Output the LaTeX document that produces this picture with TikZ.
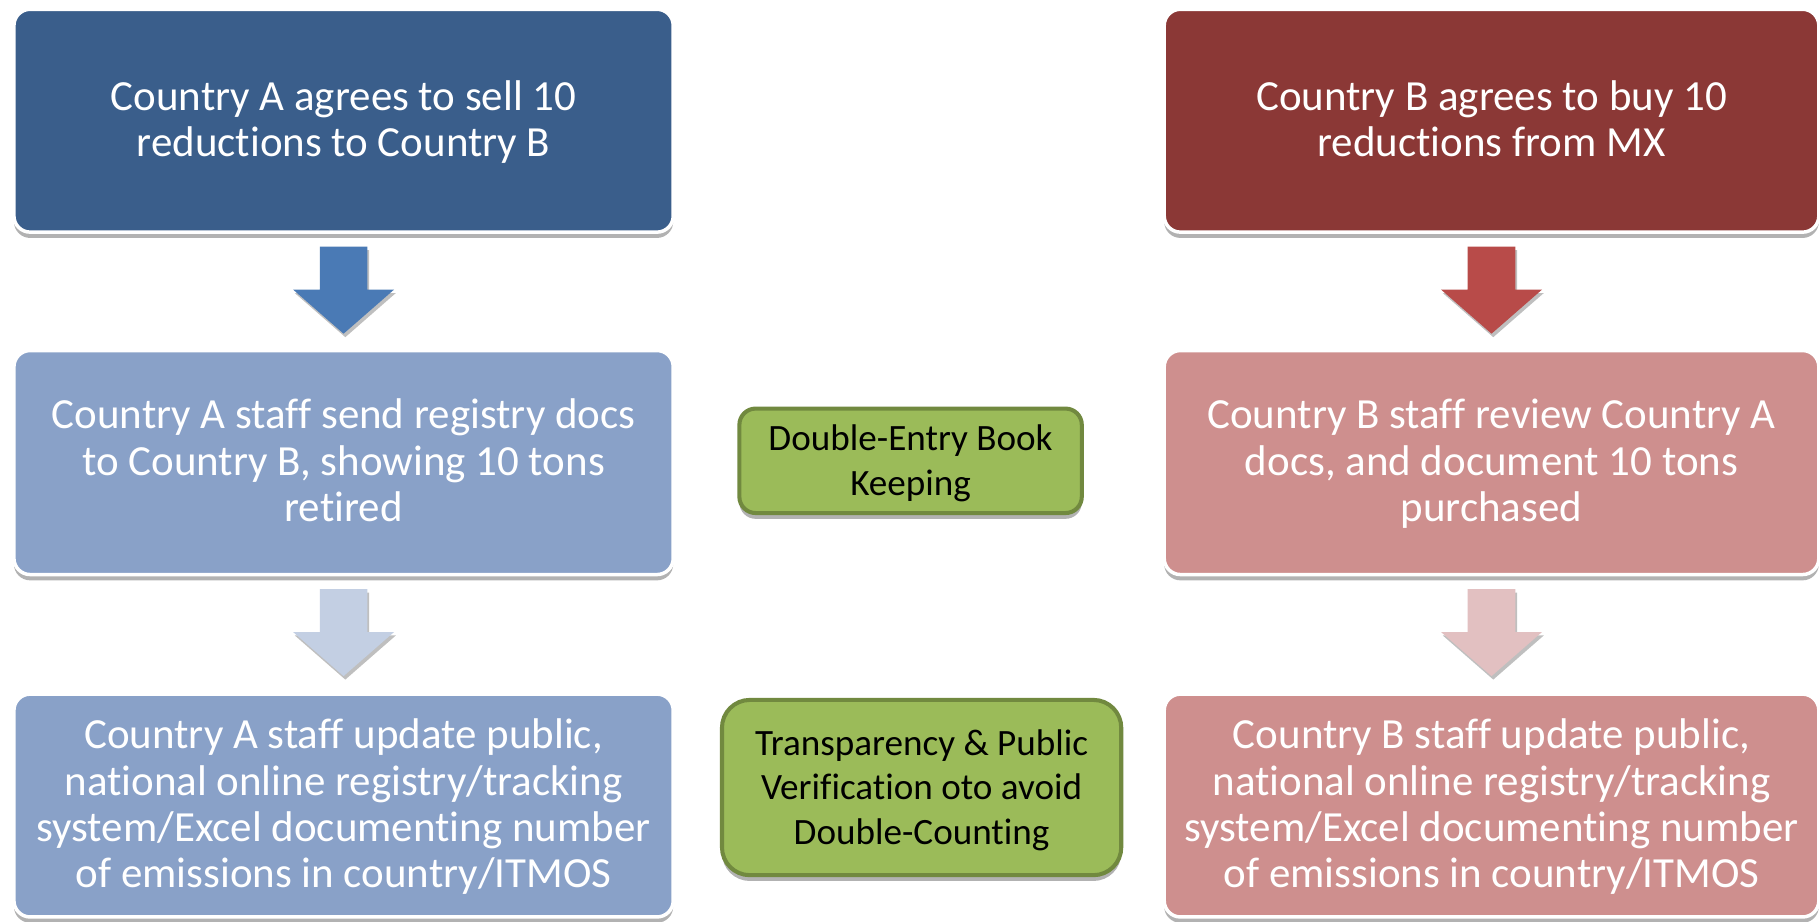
\documentclass[tikz,border=0pt]{standalone}
\usepackage{fontspec}
\setmainfont{Carlito}[Ligatures=NoCommon]
\usetikzlibrary{shadows,calc}
\definecolor{dblue}{HTML}{3A5E8B}
\definecolor{ablue}{HTML}{4A7AB5}
\definecolor{lblue}{HTML}{89A1C8}
\definecolor{pblue}{HTML}{C3CFE3}
\definecolor{dred}{HTML}{8B3836}
\definecolor{ared}{HTML}{B84B49}
\definecolor{lred}{HTML}{CE8F8E}
\definecolor{pred}{HTML}{E2C0C1}
\definecolor{gfill}{HTML}{9BBB59}
\definecolor{gline}{HTML}{71893F}
\newcommand\topfix{\rule{0pt}{\dimexpr0.7\baselineskip+6pt\relax}}
\newcommand\blkarrow[2]{%
  \fill[#2, drop shadow={shadow xshift=1.5pt, shadow yshift=-3pt, opacity=0.25, fill=black}]
    ($(#1.south)+(-20.5,11)$) -- ($(#1.south)+(20.5,11)$) -- ($(#1.south)+(20.5,48)$)
    -- ($(#1.south)+(43.5,48)$) -- ($(#1.south)+(0,86)$) -- ($(#1.south)+(-43.5,48)$)
    -- ($(#1.south)+(-20.5,48)$) -- cycle;}
\begin{document}
\begin{tikzpicture}[x=1pt,y=-1pt,
  box/.style={rectangle, rounded corners=14pt, draw=white, line width=3pt,
    minimum height=192pt, align=center, text=white, inner sep=0pt,
    font=\fontsize{37}{40}\selectfont,
    drop shadow={shadow xshift=0pt, shadow yshift=-5pt, opacity=0.3, fill=black}},
  lbox/.style={box, minimum width=568pt},
  rbox/.style={box, minimum width=564pt},
  gbox/.style={rectangle, fill=gfill, draw=gline, line width=3.5pt, align=center,
    text=black, inner sep=0pt, font=\fontsize{32}{38.5}\selectfont,
    drop shadow={shadow xshift=0pt, shadow yshift=-5pt, opacity=0.3, fill=black}}]
\useasboundingbox (0,0) rectangle (1568,794);
\fill[white] (0,0) rectangle (1568,794);
% left column
\node[lbox, fill=dblue] (L1) at (296,104) {\topfix Country A agrees to sell 10\\reductions to Country B\strut};
\node[lbox, fill=lblue, minimum height=193pt] (L2) at (296,398.5) {\topfix Country A staff send registry docs\\to Country B, showing 10 tons\\retired\strut};
\node[lbox, fill=lblue] (L3) at (296,694) {\topfix Country A staff update public,\\national online registry/tracking\\system/Excel documenting number\\of emissions in country/ITMOS\strut};
% right column
\node[rbox, fill=dred] (R1) at (1285,104) {\topfix Country B agrees to buy 10\\reductions from MX\strut};
\node[rbox, fill=lred, minimum height=193pt] (R2) at (1285,398.5) {\topfix Country B staff review Country A\\docs, and document 10 tons\\purchased\strut};
\node[rbox, fill=lred] (R3) at (1285,694) {\topfix Country B staff update public,\\national online registry/tracking\\system/Excel documenting number\\of emissions in country/ITMOS\strut};
% middle
\node[gbox, rounded corners=14pt, minimum width=295pt, minimum height=90pt] (G1) at (784.5,397) {\topfix Double-Entry Book\\Keeping\strut};
\node[gbox, rounded corners=24pt, minimum width=344pt, minimum height=151pt] (G2) at (794,678.5) {\topfix Transparency \& Public\\Verification oto avoid\\Double-Counting\strut};
% arrows
\blkarrow{L1}{ablue}
\blkarrow{L2}{pblue}
\blkarrow{R1}{ared}
\blkarrow{R2}{pred}
\end{tikzpicture}
\end{document}
